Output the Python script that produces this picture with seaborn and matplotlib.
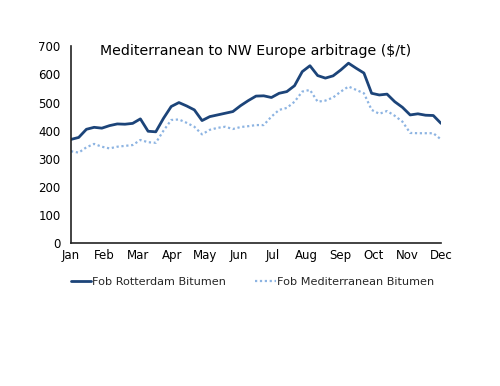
import numpy as np
import pandas as pd
import matplotlib
matplotlib.use("Agg")
import matplotlib.pyplot as plt
import seaborn as sns

# --- DATA (weekly, $/t) ---
MONTHS = ['Jan', 'Feb', 'Mar', 'Apr', 'May', 'Jun', 'Jul', 'Aug', 'Sep', 'Oct', 'Nov', 'Dec']
rotterdam = [369, 376, 405, 412, 409, 418, 424, 423, 426, 442, 398, 396, 444,
             486, 500, 488, 474, 436, 450, 456, 462, 468, 489, 507, 523, 524,
             518, 533, 539, 560, 610, 631, 596, 587, 595, 616, 640, 622, 605,
             533, 527, 530, 503, 483, 456, 460, 455, 454, 426]
mediterranean = [327, 322, 341, 353, 343, 337, 343, 346, 349, 367, 359, 357, 400,
                 438, 440, 428, 414, 387, 403, 410, 414, 406, 413, 416, 420, 420,
                 450, 474, 481, 503, 539, 545, 503, 507, 518, 539, 557, 545, 533,
                 474, 460, 470, 453, 432, 392, 391, 391, 391, 369]
SERIES = ['Fob Rotterdam Bitumen', 'Fob Mediterranean Bitumen']

week = np.arange(len(rotterdam))
df = pd.DataFrame({'week': week, SERIES[0]: rotterdam, SERIES[1]: mediterranean})

sns.set_style("white")
plt.rcParams['font.family'] = ['DejaVu Sans']

fig = plt.figure(figsize=(5, 3.86), dpi=100)
ax = fig.add_axes([0.142, 0.370, 0.740, 0.510])

sns.lineplot(data=df, x='week', y=SERIES[0], ax=ax, color='#1c4479',
             linewidth=2.0, label=SERIES[0])
sns.lineplot(data=df, x='week', y=SERIES[1], ax=ax, color='#8db4e2',
             linewidth=1.6, linestyle=(0, (1, 1.2)), label=SERIES[1])

last = len(rotterdam) - 1
ax.set_xlim(0, last)
ax.set_ylim(0, 700)
ax.set_xticks([i * last / 11 for i in range(12)])
ax.set_xticklabels(MONTHS)
ax.set_yticks(range(0, 701, 100))
ax.set_xlabel('')
ax.set_ylabel('')

for s in ['top', 'right']:
    ax.spines[s].set_visible(False)
for s in ['left', 'bottom']:
    ax.spines[s].set_color('#222222')
    ax.spines[s].set_linewidth(1.2)
ax.tick_params(axis='y', direction='out', length=4, width=1, colors='#222222',
               labelsize=8.5, labelcolor='black')
ax.tick_params(axis='x', direction='in', length=4, width=1, colors='#222222',
               labelsize=8.5, labelcolor='black', pad=4)

ax.set_title('Mediterranean to NW Europe arbitrage ($/t)', fontsize=10.2,
             color='black', y=0.955, pad=0)

ax.legend(loc='upper center', bbox_to_anchor=(0.49, -0.12), ncol=2,
          frameon=False, fontsize=8.1, handlelength=1.8, handletextpad=0.1,
          columnspacing=2.6)

fig.savefig('out.png', dpi=100)
